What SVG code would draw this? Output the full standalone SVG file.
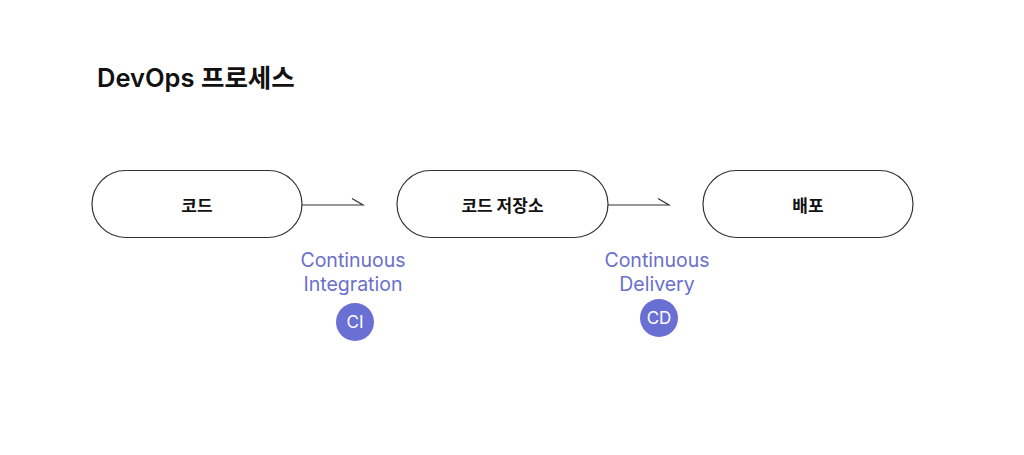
<svg xmlns="http://www.w3.org/2000/svg" width="1024" height="455" viewBox="0 0 1024 455">
<style>
.pill{fill:#fff;stroke:#333;stroke-width:1.2}
.nl{font-family:"Noto Sans CJK KR","Noto Sans",sans-serif;font-size:17px;font-weight:700;fill:#111;text-anchor:middle;dominant-baseline:central}
.lbl{font-family:Inter,"Liberation Sans",Arial,sans-serif;font-size:19.5px;fill:#6a6fcc;text-anchor:middle}
.badge{fill:#6a6fd4}
.bt{font-family:Inter,"Liberation Sans",Arial,sans-serif;font-size:17px;fill:#fff;text-anchor:middle;dominant-baseline:central}
.conn{fill:none;stroke:#333;stroke-width:1.2}
</style>
<rect width="1024" height="455" fill="#fff"/>
<text x="97" y="87" font-family="Inter,'Noto Sans CJK KR',sans-serif" font-size="25.5" font-weight="600" fill="#111">DevOps 프로세스</text>
<g id="node-code"><rect class="pill" x="92" y="170.5" width="210" height="67" rx="33.5"/><text class="nl" x="197" y="204">코드</text></g>
<g id="node-repo"><rect class="pill" x="397" y="170.5" width="211" height="67" rx="33.5"/><text class="nl" x="502.5" y="204">코드 저장소</text></g>
<g id="node-deploy"><rect class="pill" x="703" y="170.5" width="210" height="67" rx="33.5"/><text class="nl" x="808" y="204">배포</text></g>
<g id="connectors">
<path class="conn" d="M302 205H363L352 198.5"/>
<path class="conn" d="M608 205H669L658 198.5"/>
</g>
<g id="ci">
<text class="lbl" x="353" y="267">Continuous</text>
<text class="lbl" x="353" y="291">Integration</text>
<circle class="badge" cx="355" cy="322" r="19"/><text class="bt" x="355" y="322">CI</text>
</g>
<g id="cd">
<text class="lbl" x="657" y="267">Continuous</text>
<text class="lbl" x="657" y="291">Delivery</text>
<circle class="badge" cx="659" cy="318" r="19"/><text class="bt" x="659" y="318">CD</text>
</g>
</svg>
